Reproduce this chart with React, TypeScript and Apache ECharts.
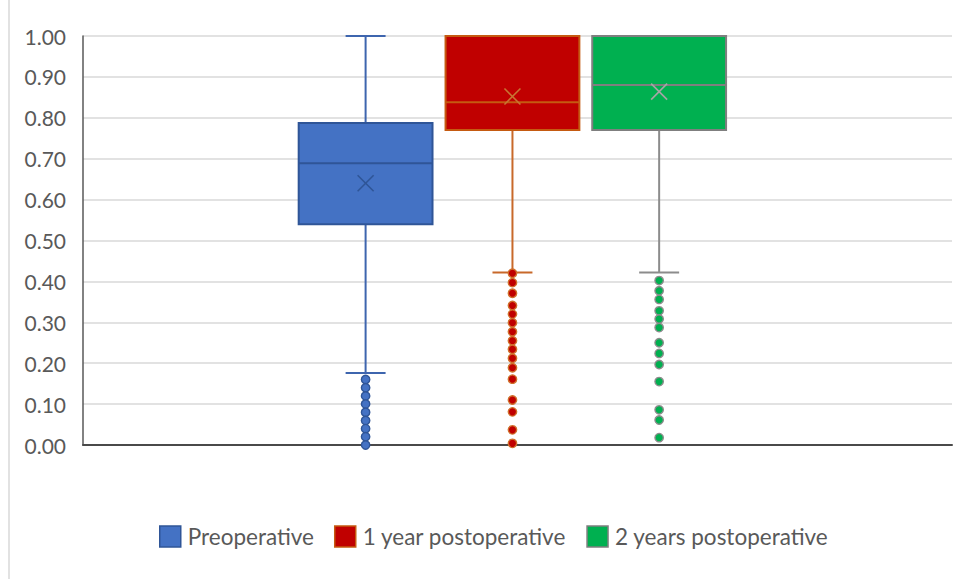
import React, { useEffect, useRef } from "react";
import * as echarts from "echarts";

const groupNames = ["Preoperative", "1 year postoperative", "2 years postoperative"];
const whiskerLow = [0.176, 0.422, 0.422];
const q1 = [0.54, 0.77, 0.77];
const median = [0.689, 0.838, 0.88];
const q3 = [0.787, 1.0, 1.0];
const whiskerHigh = [1.0, 1.0, 1.0];
const mean = [0.64, 0.852, 0.864];

const outliersPre = [0.16, 0.14, 0.12, 0.1, 0.08, 0.06, 0.04, 0.02, 0.0];
const outliers1y = [0.42, 0.397, 0.371, 0.341, 0.32, 0.299, 0.277, 0.255, 0.234, 0.212, 0.189, 0.161, 0.11, 0.081, 0.037, 0.004];
const outliers2y = [0.402, 0.377, 0.356, 0.328, 0.308, 0.287, 0.25, 0.224, 0.197, 0.155, 0.086, 0.061, 0.018];

const yTicks = [0, 0.1, 0.2, 0.3, 0.4, 0.5, 0.6, 0.7, 0.8, 0.9, 1.0];

const outlierLists = [outliersPre, outliers1y, outliers2y];

// styles
const fills = ["#4472C4", "#C00000", "#00B050"];
const borders = ["#2F5597", "#C55A11", "#7F7F7F"];
const whiskerColors = ["#3E65AE", "#C8692A", "#8C8C8C"];
const meanColors = ["#2F5597", "#C87533", "#A5A5A5"];
const outlierBorders = ["#2F5597", "#D0702C", "#8C8C8C"];
// group centre offsets as fractions of the category band width
const offsets = [-0.1748, -0.0058, 0.163];
const boxFrac = 0.154;
const capFrac = 0.046;

export default function App() {
  const ref = useRef<HTMLDivElement>(null);
  useEffect(() => {
    if (!ref.current) return;
    const chart = echarts.init(ref.current, undefined, { renderer: "svg" });
    const font = "Lato, 'Open Sans', sans-serif";

    const boxSeries = groupNames.map((name, i) => ({
      type: "custom",
      name,
      data: [[0, whiskerLow[i], q1[i], median[i], q3[i], whiskerHigh[i], mean[i]]],
      encode: { x: 0, y: [1, 2, 3, 4, 5, 6] },
      z: 3,
      itemStyle: { color: fills[i], borderColor: borders[i] },
      renderItem: (params: any, api: any) => {
        const bw = api.size([1, 0])[0];
        const cx = api.coord([api.value(0), 0])[0] + offsets[i] * bw;
        const y = (v: number) => api.coord([0, v])[1];
        const half = (boxFrac * bw) / 2;
        const cap = (capFrac * bw) / 2;
        const low = api.value(1), a = api.value(2), m = api.value(3), b = api.value(4), high = api.value(5), mn = api.value(6);
        const wStyle = { stroke: whiskerColors[i], lineWidth: 2 };
        const xs = 8;
        const my = y(mn);
        return {
          type: "group",
          children: [
            { type: "line", shape: { x1: cx, y1: y(low), x2: cx, y2: y(a) }, style: wStyle },
            { type: "line", shape: { x1: cx, y1: y(b), x2: cx, y2: y(high) }, style: wStyle },
            { type: "line", shape: { x1: cx - cap, y1: y(low), x2: cx + cap, y2: y(low) }, style: wStyle },
            { type: "line", shape: { x1: cx - cap, y1: y(high), x2: cx + cap, y2: y(high) }, style: wStyle },
            {
              type: "rect",
              shape: { x: cx - half, y: y(b), width: half * 2, height: y(a) - y(b) },
              style: { fill: fills[i], stroke: borders[i], lineWidth: 2 },
            },
            { type: "line", shape: { x1: cx - half, y1: y(m), x2: cx + half, y2: y(m) }, style: { stroke: borders[i], lineWidth: 2 } },
            { type: "line", shape: { x1: cx - xs, y1: my - xs, x2: cx + xs, y2: my + xs }, style: { stroke: meanColors[i], lineWidth: 1.6 } },
            { type: "line", shape: { x1: cx - xs, y1: my + xs, x2: cx + xs, y2: my - xs }, style: { stroke: meanColors[i], lineWidth: 1.6 } },
          ],
        };
      },
    }));

    const outlierSeries = outlierLists.map((list, i) => ({
      type: "custom",
      name: groupNames[i] + " outliers",
      data: list.map((v) => [0, v]),
      encode: { x: 0, y: 1 },
      z: 4,
      renderItem: (params: any, api: any) => {
        const bw = api.size([1, 0])[0];
        const p = api.coord([api.value(0), api.value(1)]);
        return {
          type: "circle",
          shape: { cx: p[0] + offsets[i] * bw, cy: p[1], r: 4.2 },
          style: { fill: fills[i], stroke: outlierBorders[i], lineWidth: 1.4 },
        };
      },
    }));

    chart.setOption({
      animation: false,
      backgroundColor: "#ffffff",
      grid: { left: 83, right: 5, top: 36, bottom: 134, containLabel: false },
      xAxis: {
        type: "category",
        data: [""],
        axisLine: { show: true, lineStyle: { color: "#4A4A4A", width: 2 } },
        axisTick: { show: false },
        axisLabel: { show: false },
        splitLine: { show: false },
      },
      yAxis: {
        type: "value",
        min: yTicks[0],
        max: yTicks[yTicks.length - 1],
        interval: 0.1,
        axisLine: { show: true, lineStyle: { color: "#595959", width: 1.5 } },
        axisTick: { show: false },
        axisLabel: {
          margin: 17,
          color: "#595959",
          fontSize: 21,
          fontFamily: font,
          formatter: (v: number) => v.toFixed(2),
        },
        splitLine: { show: true, lineStyle: { color: "#D9D9D9", width: 1.5 } },
      },
      legend: {
        left: 159,
        top: 525,
        padding: 0,
        itemWidth: 21,
        itemHeight: 21,
        itemGap: 20,
        icon: "rect",
        textStyle: { color: "#595959", fontSize: 22.5, fontFamily: font, padding: [0, 0, 0, 2] },
        data: groupNames.map((name, i) => ({
          name,
          itemStyle: { color: fills[i], borderColor: borders[i], borderWidth: 1.5 },
        })),
      },
      graphic: [
        {
          type: "line",
          shape: { x1: 9, y1: 0, x2: 9, y2: 579 },
          style: { stroke: "#D9D9D9", lineWidth: 1.5 },
          silent: true,
        },
      ],
      series: [...boxSeries, ...outlierSeries],
    });
    return () => chart.dispose();
  }, []);
  return <div ref={ref} style={{ position: "fixed", left: 0, top: 0, width: 957, height: 579 }} />;
}
